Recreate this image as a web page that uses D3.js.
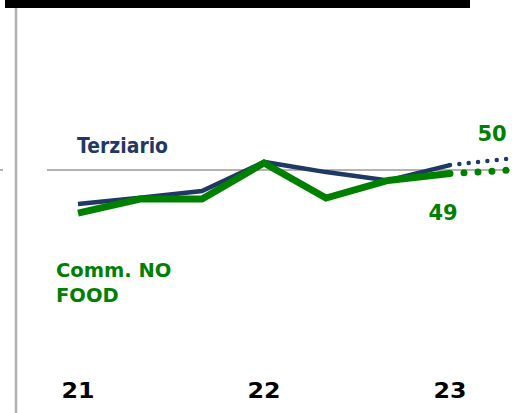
<!DOCTYPE html>
<html>
<head>
<meta charset="utf-8">
<script src="https://cdn.jsdelivr.net/npm/d3@7"></script>
<style>
  html, body { margin: 0; padding: 0; background: #fff; }
  svg { display: block; }
</style>
</head>
<body>
<svg id="chart" width="521" height="413"></svg>
<script>
// Periods (three per year) plus one projected period
const periods = ["21-I", "21-II", "21-III", "22-I", "22-II", "22-III", "23-I", "23-II"];
const tickLabels = [
  { period: "21-I", text: "21" },
  { period: "22-I", text: "22" },
  { period: "23-I", text: "23" }
];

// Index values, last entry is the projection
const terziario = [40.3, 42.1, 44.0, 52.3, 49.4, 47.0, 51.4, 53.3];
const commNoFood = [37.7, 41.7, 41.7, 52.0, 42.0, 47.0, 49, 50];
const threshold = 50;

const navy = "#1f3864";
const green = "#008000";

const svg = d3.select("#chart");

const x = d3.scalePoint().domain(periods).range([78, 512]);
const y = d3.scaleLinear().domain([30, 60]).range([240, 135]);

// Top black band
svg.append("rect").attr("x", 5).attr("y", 0).attr("width", 465).attr("height", 8).attr("fill", "#000");

// Vertical axis line
svg.append("line")
  .attr("x1", 16).attr("x2", 16).attr("y1", 8).attr("y2", 413)
  .attr("stroke", "#b4b4b4").attr("stroke-width", 2.6);

// Small tick at the left edge on the threshold
svg.append("line")
  .attr("x1", 0).attr("x2", 3).attr("y1", y(threshold)).attr("y2", y(threshold))
  .attr("stroke", "#999").attr("stroke-width", 1.5);

// Threshold reference line
svg.append("line")
  .attr("x1", 47).attr("x2", 510).attr("y1", y(threshold)).attr("y2", y(threshold))
  .attr("stroke", "#9a9a9a").attr("stroke-width", 1.5);

const line = d3.line().x(d => x(d.p)).y(d => y(d.v));
const toPts = arr => arr.map((v, i) => ({ p: periods[i], v }));

function drawSeries(values, color, width, dotGap) {
  const pts = toPts(values);
  const actual = pts.slice(0, pts.length - 1);
  const proj = pts.slice(pts.length - 2);
  svg.append("path")
    .attr("d", line(actual))
    .attr("fill", "none")
    .attr("stroke", color)
    .attr("stroke-width", width)
    .attr("stroke-linejoin", "miter");
  svg.append("path")
    .attr("d", line(proj))
    .attr("fill", "none")
    .attr("stroke", color)
    .attr("stroke-width", width)
    .attr("stroke-linecap", "round")
    .attr("stroke-dasharray", `0 ${dotGap}`);
}

drawSeries(terziario, navy, 4.5, 9.4);
drawSeries(commNoFood, green, 7, 14);

const font = "'DejaVu Sans', sans-serif";

// Series labels
svg.append("text")
  .attr("x", 77).attr("y", 153)
  .attr("font-family", font).attr("font-weight", "bold").attr("font-size", 21.5)
  .attr("textLength", 91).attr("lengthAdjust", "spacingAndGlyphs")
  .attr("fill", navy).text("Terziario");

const commLabel = svg.append("text")
  .attr("font-family", font).attr("font-weight", "bold").attr("font-size", 19.5)
  .attr("fill", green);
commLabel.append("tspan").attr("x", 56).attr("y", 277).text("Comm. NO");
commLabel.append("tspan").attr("x", 56).attr("y", 302).text("FOOD");

// Value labels
const n = commNoFood.length;
svg.append("text")
  .attr("x", 492).attr("y", 141).attr("text-anchor", "middle")
  .attr("font-family", font).attr("font-weight", "bold").attr("font-size", 21)
  .attr("fill", green).text(d3.format("d")(commNoFood[n - 1]));
svg.append("text")
  .attr("x", 443).attr("y", 220).attr("text-anchor", "middle")
  .attr("font-family", font).attr("font-weight", "bold").attr("font-size", 21)
  .attr("fill", green).text(d3.format("d")(commNoFood[n - 2]));

// Year tick labels
svg.selectAll("text.tick")
  .data(tickLabels)
  .join("text")
  .attr("class", "tick")
  .attr("x", d => x(d.period) - 16.5)
  .attr("y", 398)
  .attr("font-family", font)
  .attr("font-weight", "bold")
  .attr("font-size", 21)
  .attr("textLength", 33).attr("lengthAdjust", "spacingAndGlyphs")
  .attr("fill", "#000")
  .text(d => d.text);
</script>
</body>
</html>
